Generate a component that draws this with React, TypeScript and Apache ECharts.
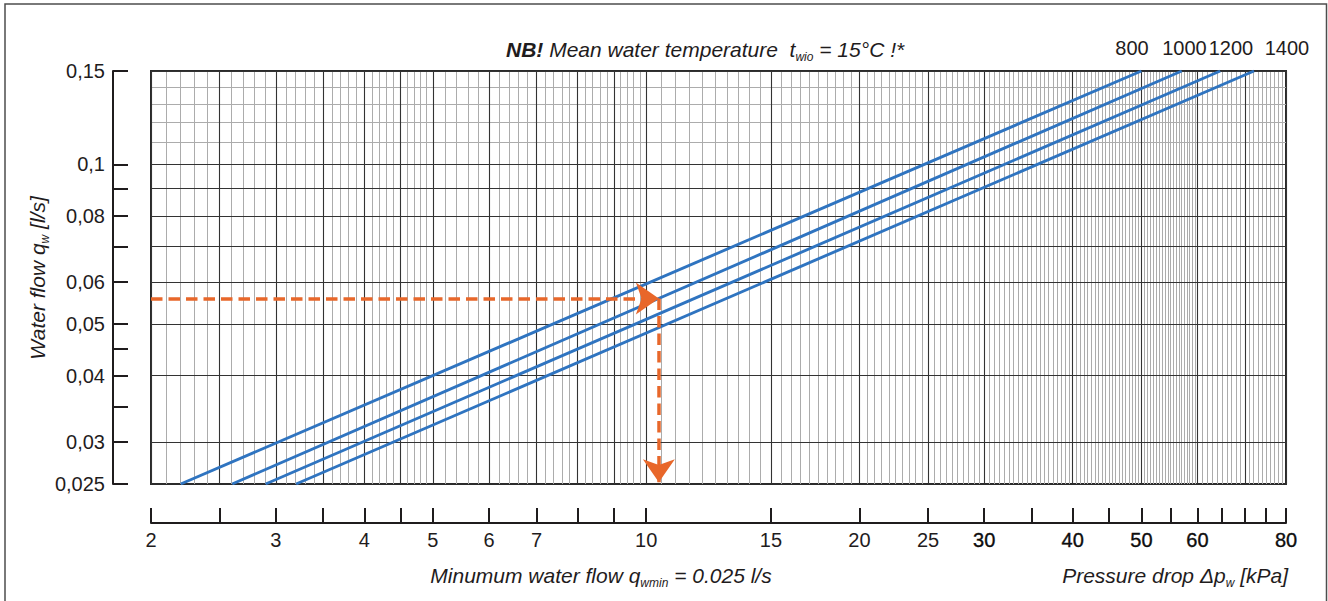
import React, { useEffect, useRef } from "react";
import * as echarts from "echarts";

const FONT = "'Liberation Sans', Arial, Helvetica, sans-serif";
const INK = "#1f1c1d";
const BLUE = "#2f74c0";
const ORANGE = "#e8672a";
const NB = "\u00A0";

// Curves: water flow [l/s] vs pressure drop [kPa], endpoints
const CURVE_NAMES = ["800", "1000", "1200", "1400"];
const CURVE_800: number[][] = [[2.203, 0.025], [50.0, 0.15]];
const CURVE_1000: number[][] = [[2.604, 0.025], [57.0, 0.15]];
const CURVE_1200: number[][] = [[2.903, 0.025], [64.6, 0.15]];
const CURVE_1400: number[][] = [[3.205, 0.025], [72.1, 0.15]];

// Example reading (orange arrows)
const EXAMPLE_FLOW = 0.0559;
const EXAMPLE_DP = 10.42;
const EXAMPLE_FLOOR = 0.0252;

// Axes
const X_MIN = 2;
const X_MAX = 80;
const Y_MIN = 0.025;
const Y_MAX = 0.15;
const X_TICKS = [2, 2.5, 3, 3.5, 4, 4.5, 5, 6, 7, 8, 9, 10, 15, 20, 25, 30, 35, 40, 45, 50, 55, 60, 65, 70, 75, 80];
const X_LABELS = [2, 3, 4, 5, 6, 7, 10, 15, 20, 25, 30, 40, 50, 60, 80];
const Y_TICKS = [0.025, 0.03, 0.035, 0.04, 0.045, 0.05, 0.06, 0.07, 0.08, 0.09, 0.1, 0.15];
const Y_LABELS = [0.025, 0.03, 0.04, 0.05, 0.06, 0.08, 0.1, 0.15];
const X_MAJOR_GRID = [2, 2.5, 3, 3.5, 4, 4.5, 5, 6, 7, 8, 9, 10, 15, 20, 25, 30, 40, 50, 60, 70, 80];
const Y_MAJOR_GRID = [0.025, 0.03, 0.035, 0.04, 0.045, 0.05, 0.06, 0.07, 0.08, 0.09, 0.1, 0.15];
const X_MINOR_STEPS = [[2, 5, 0.1], [5, 10, 0.2], [10, 60, 0.5], [60, 80, 1]];
const Y_MINOR_STEPS = [[0.025, 0.05, 0.001], [0.05, 0.08, 0.002], [0.08, 0.1, 0.001], [0.1, 0.15, 0.005]];

function minorValues(ranges: number[][], majors: number[]): number[] {
  const out: number[] = [];
  for (const [a, b, s] of ranges) {
    const n = Math.round((b - a) / s);
    for (let k = 1; k < n; k++) {
      const v = +(a + k * s).toFixed(6);
      if (!majors.some((m) => Math.abs(m - v) < 1e-9)) out.push(v);
    }
  }
  return out;
}

const lg = (v: number) => Math.log10(v);
const fromLg = (v: number) => parseFloat(Math.pow(10, v).toPrecision(4));

export default function App() {
  const ref = useRef<HTMLDivElement>(null);

  useEffect(() => {
    if (!ref.current) return;
    const chart = echarts.init(ref.current, undefined, { renderer: "svg" });

    const minorX = minorValues(X_MINOR_STEPS, X_MAJOR_GRID);
    const minorY = minorValues(Y_MINOR_STEPS, Y_MAJOR_GRID);
    const curves = [CURVE_800, CURVE_1000, CURVE_1200, CURVE_1400];

    const mainRich = (size: number, lh: number) => ({
      i: { fontFamily: FONT, fontStyle: "italic", fontSize: size, fill: INK, lineHeight: lh },
      b: { fontFamily: FONT, fontStyle: "italic", fontWeight: "bold", fontSize: size, fill: INK, lineHeight: lh },
      s: { fontFamily: FONT, fontStyle: "italic", fontSize: 12, fill: INK, lineHeight: 12, verticalAlign: "bottom" },
    });

    const tickLabelStyle = {
      fontFamily: FONT,
      fontSize: 20,
      color: INK,
    };

    const option: any = {
      animation: false,
      textStyle: { fontFamily: FONT },
      grid: {
        left: 151,
        right: 42,
        top: 71,
        bottom: 117,
        show: true,
        borderColor: "#2b2b2b",
        borderWidth: 2,
        backgroundColor: "transparent",
        containLabel: false,
        outerBoundsMode: "none",
      },
      xAxis: [
        {
          type: "log",
          logBase: 10,
          min: X_MIN,
          max: X_MAX,
          show: false,
          position: "top",
          splitLine: { show: false },
        },
        {
          type: "value",
          min: lg(X_MIN),
          max: lg(X_MAX),
          position: "bottom",
          offset: 39,
          axisLine: { show: true, onZero: false, lineStyle: { color: INK, width: 2 } },
          axisTick: {
            show: true,
            inside: true,
            length: 15,
            customValues: X_TICKS.map(lg),
            lineStyle: { color: INK, width: 2 },
          },
          axisLabel: {
            show: true,
            ...tickLabelStyle,
            margin: 7,
            customValues: X_LABELS.map(lg),
            formatter: (v: number) => {
              const n = fromLg(v);
              return n >= 30 ? `{b|${n}}` : `${n}`;
            },
            rich: {
              b: { ...tickLabelStyle, color: "#0d0d0d", textBorderColor: "#0d0d0d", textBorderWidth: 0.35 },
            },
          },
          splitLine: { show: false },
        },
      ],
      yAxis: [
        {
          type: "log",
          logBase: 10,
          min: Y_MIN,
          max: Y_MAX,
          show: false,
          position: "right",
          splitLine: { show: false },
        },
        {
          type: "value",
          min: lg(Y_MIN),
          max: lg(Y_MAX),
          position: "left",
          offset: 38,
          axisLine: { show: true, onZero: false, lineStyle: { color: INK, width: 2 } },
          axisTick: {
            show: true,
            inside: true,
            length: 15,
            customValues: Y_TICKS.map(lg),
            lineStyle: { color: INK, width: 2 },
          },
          axisLabel: {
            show: true,
            ...tickLabelStyle,
            margin: 8,
            customValues: Y_LABELS.map(lg),
            formatter: (v: number) => String(fromLg(v)).replace(".", ","),
          },
          splitLine: { show: false },
        },
      ],
      series: [
        {
          type: "line",
          name: "minor grid",
          xAxisIndex: 0,
          yAxisIndex: 0,
          data: [],
          silent: true,
          markLine: {
            silent: true,
            z: 1,
            symbol: ["none", "none"],
            label: { show: false },
            lineStyle: { color: "#acacac", width: 1, type: "solid" },
            emphasis: { disabled: true },
            data: [
              ...minorX.map((v) => ({ xAxis: v })),
              ...minorY.map((v) => ({ yAxis: v })),
            ],
          },
        },
        {
          type: "line",
          name: "major grid",
          xAxisIndex: 0,
          yAxisIndex: 0,
          data: [],
          silent: true,
          markLine: {
            silent: true,
            z: 2,
            symbol: ["none", "none"],
            label: { show: false },
            lineStyle: { color: "#333333", width: 1.1, type: "solid" },
            emphasis: { disabled: true },
            data: [
              ...X_MAJOR_GRID.map((v) => ({ xAxis: v })),
              ...Y_MAJOR_GRID.map((v) => ({ yAxis: v })),
            ],
          },
        },
        ...curves.map((d, i) => ({
          type: "line",
          name: CURVE_NAMES[i],
          xAxisIndex: 0,
          yAxisIndex: 0,
          data: d,
          showSymbol: false,
          symbol: "none",
          silent: true,
          z: 3,
          lineStyle: { color: BLUE, width: 2.9 },
        })),
        {
          type: "line",
          name: "example",
          xAxisIndex: 0,
          yAxisIndex: 0,
          data: [],
          silent: true,
          markLine: {
            silent: true,
            z: 10,
            symbol: ["none", "arrow"],
            symbolSize: [24, 23],
            label: { show: false },
            emphasis: { disabled: true },
            lineStyle: { color: ORANGE, width: 3.5, type: [11.5, 6], opacity: 1 },
            data: [
              [{ coord: [X_MIN, EXAMPLE_FLOW] }, { coord: [EXAMPLE_DP, EXAMPLE_FLOW] }],
              [{ coord: [EXAMPLE_DP, EXAMPLE_FLOW] }, { coord: [EXAMPLE_DP, EXAMPLE_FLOOR] }],
            ],
          },
        },
      ],
      graphic: [
        {
          type: "rect",
          silent: true,
          z: -1,
          shape: { x: 5, y: 4, width: 1321.5, height: 620 },
          style: { fill: "none", stroke: "#4d4d4d", lineWidth: 1.5 },
        },
        {
          type: "text",
          x: 506,
          y: 49,
          silent: true,
          style: {
            text: `{b|NB!}{i|${NB}Mean water temperature${NB}${NB}t}{s|wio}{i|${NB}=${NB}15°C${NB}!*}`,
            rich: mainRich(21, 27),
            align: "left",
            verticalAlign: "middle",
          },
        },
        ...CURVE_NAMES.map((name, i) => ({
          type: "text",
          x: [1132, 1184.5, 1231, 1287][i],
          y: 48,
          silent: true,
          style: {
            text: name,
            fontFamily: FONT,
            fontSize: 20,
            fill: INK,
            align: "center",
            verticalAlign: "middle",
          },
        })),
        {
          type: "text",
          x: 37,
          y: 278,
          rotation: Math.PI / 2,
          silent: true,
          style: {
            text: `{i|Water flow q}{s|w}{i|${NB}[l/s]}`,
            rich: mainRich(21, 28),
            align: "center",
            verticalAlign: "middle",
          },
        },
        {
          type: "text",
          x: 601,
          y: 575,
          silent: true,
          style: {
            text: `{i|Minumum water flow q}{s|wmin}{i|${NB}=${NB}0.025 l/s}`,
            rich: mainRich(21, 28),
            align: "center",
            verticalAlign: "middle",
          },
        },
        {
          type: "text",
          x: 1288,
          y: 575,
          silent: true,
          style: {
            text: `{i|Pressure drop Δp}{s|w}{i|${NB}[kPa]}`,
            rich: mainRich(21, 28),
            align: "right",
            verticalAlign: "middle",
          },
        },
      ],
    };

    chart.setOption(option);
    return () => {
      chart.dispose();
    };
  }, []);

  return (
    <div
      ref={ref}
      style={{ position: "absolute", left: 0, top: 0, width: 1328, height: 601, background: "#fff" }}
    />
  );
}
